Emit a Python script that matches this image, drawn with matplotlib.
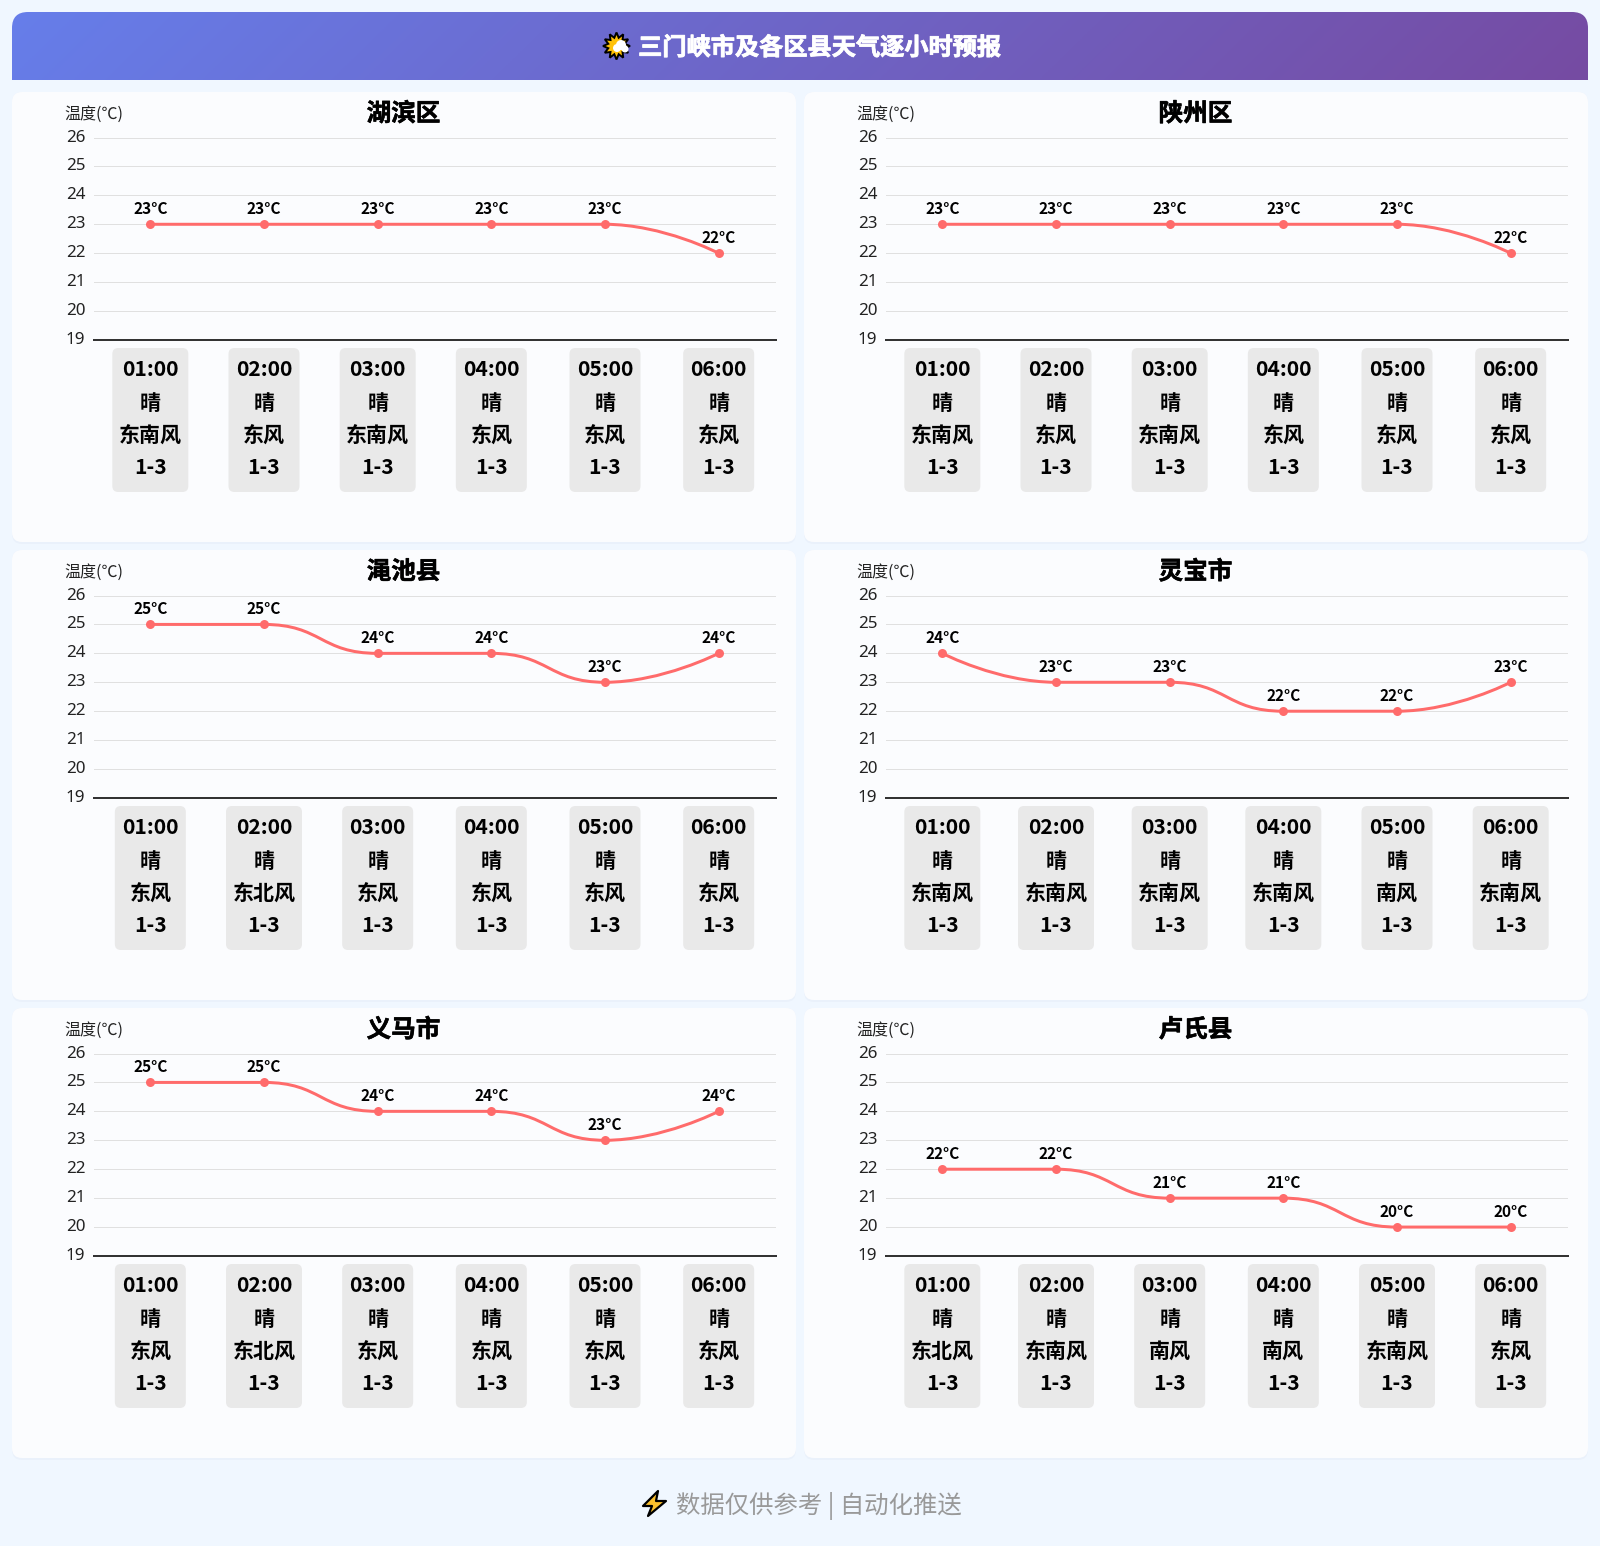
import numpy as np
import matplotlib
matplotlib.use("Agg")
import matplotlib.pyplot as plt
import matplotlib.patheffects as pe
from matplotlib.patches import FancyBboxPatch, PathPatch, Polygon, Circle
from matplotlib.path import Path
from matplotlib.transforms import ScaledTranslation

plt.rcParams['font.family'] = ['Noto Sans CJK SC', 'DejaVu Sans']

W, H = 1600, 1546
PX = 0.72  # px -> pt at dpi 100

hours = ["01:00", "02:00", "03:00", "04:00", "05:00", "06:00"]
weather = ["晴", "晴", "晴", "晴", "晴", "晴"]
level = ["1-3", "1-3", "1-3", "1-3", "1-3", "1-3"]
y_ticks = [19, 20, 21, 22, 23, 24, 25, 26]

names = ["湖滨区", "陕州区", "渑池县", "灵宝市", "义马市", "卢氏县"]

temp_hubin = [23, 23, 23, 23, 23, 22]
temp_shanzhou = [23, 23, 23, 23, 23, 22]
temp_mianchi = [25, 25, 24, 24, 23, 24]
temp_lingbao = [24, 23, 23, 22, 22, 23]
temp_yima = [25, 25, 24, 24, 23, 24]
temp_lushi = [22, 22, 21, 21, 20, 20]
temps = [temp_hubin, temp_shanzhou, temp_mianchi, temp_lingbao, temp_yima, temp_lushi]

wind_hubin = ["东南风", "东风", "东南风", "东风", "东风", "东风"]
wind_shanzhou = ["东南风", "东风", "东南风", "东风", "东风", "东风"]
wind_mianchi = ["东风", "东北风", "东风", "东风", "东风", "东风"]
wind_lingbao = ["东南风", "东南风", "东南风", "东南风", "南风", "东南风"]
wind_yima = ["东风", "东北风", "东风", "东风", "东风", "东风"]
wind_lushi = ["东北风", "东南风", "南风", "南风", "东南风", "东风"]
winds = [wind_hubin, wind_shanzhou, wind_mianchi, wind_lingbao, wind_yima, wind_lushi]


def smooth_path(xs, ys, sx, sy, smooth=0.5):
    # same idea as echarts smooth line, control points clamped to the segment range
    px = np.array(xs, float) * sx
    py = np.array(ys, float) * sy
    n = len(px)
    verts = [(px[0], py[0])]
    codes = [Path.MOVETO]
    cx0, cy0 = px[0], py[0]
    for i in range(1, n):
        x, y = px[i], py[i]
        if i == n - 1:
            cx1, cy1, ncx, ncy = x, y, x, y
        else:
            dx = px[i + 1] - px[i - 1]
            dy = py[i + 1] - py[i - 1]
            lp = np.hypot(x - px[i - 1], y - py[i - 1])
            ln = np.hypot(px[i + 1] - x, py[i + 1] - y)
            r = ln / (ln + lp)
            ncx = x + dx * smooth * r
            ncy = y + dy * smooth * r
            ncy = max(min(ncy, max(py[i + 1], y)), min(py[i + 1], y))
            ddx, ddy = ncx - x, ncy - y
            cx1, cy1 = x - ddx * lp / ln, y - ddy * lp / ln
            cy1 = max(min(cy1, max(py[i - 1], y)), min(py[i - 1], y))
            ddx, ddy = x - cx1, y - cy1
            ncx, ncy = x + ddx * ln / lp, y + ddy * ln / lp
        verts += [(cx0, cy0), (cx1, cy1), (x, y)]
        codes += [Path.CURVE4, Path.CURVE4, Path.CURVE4]
        cx0, cy0 = ncx, ncy
    verts = [(a / sx, b / sy) for a, b in verts]
    return Path(verts, codes)


fig = plt.figure(figsize=(W / 100, H / 100), dpi=100, facecolor="#f0f7ff")
bg = fig.add_axes([0, 0, 1, 1], zorder=0)
bg.set_xlim(0, W)
bg.set_ylim(H, 0)
bg.axis('off')

# banner, round top corners only
bx0, bx1, by0, by1, rad = 12, 1588, 12, 80, 16
banner = Path(
    [(bx0, by1), (bx0, by0 + rad), (bx0, by0), (bx0 + rad, by0), (bx1 - rad, by0),
     (bx1, by0), (bx1, by0 + rad), (bx1, by1), (bx0, by1)],
    [Path.MOVETO, Path.LINETO, Path.CURVE3, Path.CURVE3, Path.LINETO,
     Path.CURVE3, Path.CURVE3, Path.LINETO, Path.CLOSEPOLY])
gx, gy = np.meshgrid(np.linspace(bx0, bx1, 800), np.linspace(by0, by1, 40))
s = np.sqrt(0.5)
t = ((gx - (bx0 + bx1) / 2) * s + (gy - (by0 + by1) / 2) * s) / ((bx1 - bx0 + by1 - by0) * s) + 0.5
c0 = np.array([0x66, 0x7e, 0xea]) / 255
c1 = np.array([0x76, 0x4b, 0xa2]) / 255
grad = c0[None, None, :] * (1 - t[..., None]) + c1[None, None, :] * t[..., None]
im = bg.imshow(grad, extent=(bx0, bx1, by1, by0), aspect='auto', zorder=1)
im.set_clip_path(PathPatch(banner, transform=bg.transData))
bg.set_xlim(0, W)
bg.set_ylim(H, 0)

bg.text(820, 48, "三门峡市及各区县天气逐小时预报", color="white", fontsize=24.2 * PX,
        fontweight='bold', ha='center', va='center', zorder=3,
        path_effects=[pe.withStroke(linewidth=0.6, foreground="white")])

# sun + cloud icon
ang = np.linspace(0, 2 * np.pi, 25)[:-1]
rr = np.where(np.arange(24) % 2 == 0, 13.5, 8.5)
bg.add_patch(Polygon(np.c_[616.5 + rr * np.sin(ang), 46 + rr * np.cos(ang)], closed=True,
                     fc="#ffc107", ec="black", lw=1.4, zorder=3))
for cx, cy, r in [(617, 48, 4), (621, 45, 5), (625, 49, 3.5)]:
    bg.add_patch(Circle((cx, cy), r, fc="white", ec="none", zorder=4))

# footer
bg.text(819, 1506.5, "数据仅供参考 | 自动化推送", color="#999999", fontsize=24.4 * PX,
        ha='center', va='center', zorder=3)
bolt = [(658, 1491), (643, 1506), (652, 1506), (648, 1516), (666, 1501), (656, 1501)]
bg.add_patch(Polygon(bolt, closed=True, fc="#fbc02d", ec="black", lw=1.6, joinstyle='round', zorder=3))

for k, name in enumerate(names):
    col, row = k % 2, k // 2
    ox = col * 792
    oy = row * 458

    # panel
    bg.add_patch(FancyBboxPatch((12 + ox + 10, 92 + oy + 10), 784 - 20, 450 - 18,
                                boxstyle="round,pad=10", fc="#e6edf8", ec="none", alpha=0.55, zorder=1))
    bg.add_patch(FancyBboxPatch((12 + ox + 10, 92 + oy + 10), 784 - 20, 450 - 20,
                                boxstyle="round,pad=10", fc="#fbfcfe", ec="none", zorder=2))
    bg.text(403.5 + ox, 114 + oy, name, fontsize=24.6 * PX, fontweight='bold', color="black",
            ha='center', va='center', zorder=3,
            path_effects=[pe.withStroke(linewidth=0.4, foreground="black")])
    bg.text(93.5 + ox, 114 + oy, "温度(℃)", fontsize=16 * PX, color="#222222",
            ha='center', va='center', zorder=3)

    left, right, top, bottom = 93.5 + ox, 775.5 + ox, 137.5 + oy, 340 + oy
    ax = fig.add_axes([left / W, 1 - bottom / H, (right - left) / W, (bottom - top) / H], zorder=2)
    ax.patch.set_alpha(0)
    ax.set_xlim(-0.5, 5.5)
    ax.set_ylim(19, 26)
    for sp in ['top', 'right', 'left']:
        ax.spines[sp].set_visible(False)
    ax.spines['bottom'].set_color("#333333")
    ax.spines['bottom'].set_linewidth(2 * PX)
    ax.set_xticks([])
    ax.set_yticks(y_ticks)
    ax.set_yticklabels([str(v) for v in y_ticks], fontsize=17 * PX, color="#222222",
                       fontfamily=['Noto Sans', 'DejaVu Sans'])
    ax.tick_params(axis='y', length=0, pad=6)
    shift = ScaledTranslation(0, 2 / 100, fig.dpi_scale_trans)
    for lab in ax.get_yticklabels():
        lab.set_transform(lab.get_transform() + shift)
    ax.grid(axis='y', color="#e0e0e0", lw=1 * PX)
    ax.set_axisbelow(True)

    xs = np.arange(len(hours))
    band_px = (right - left) / len(hours)
    y_px = (bottom - top) / 7
    line = smooth_path(xs, temps[k], band_px, y_px)
    ax.add_patch(PathPatch(line, fc='none', ec="#ff6b6b", lw=3 * PX, capstyle='round', zorder=3))
    ax.scatter(xs, temps[k], s=(9 * PX) ** 2, color="#ff6b6b", linewidths=0, zorder=4)
    for i, v in enumerate(temps[k]):
        ax.annotate(f"{v}°C", (i, v), xytext=(0, 15.5 * PX), textcoords='offset points',
                    ha='center', va='center', fontsize=15.5 * PX, fontweight='bold', color="black")

    # info cards below the axis
    for i in range(len(hours)):
        cx = left + (i + 0.5) * band_px
        w = 60 + 16 if len(winds[k][i]) == 3 else 55 + 16
        bg.add_patch(FancyBboxPatch((cx - w / 2 + 6, 348 + oy + 6), w - 12, 144 - 12,
                                    boxstyle="round,pad=6", fc="#e9e9e9", ec="none", zorder=3))
        rows = [hours[i], weather[i], winds[k][i], level[i]]
        for txt, yy in zip(rows, [370, 403, 435, 467]):
            bg.text(cx, yy + oy, txt, fontsize=21 * PX, fontweight='bold', color="black",
                    ha='center', va='center', zorder=4)

fig.savefig("out.png", dpi=100, facecolor=fig.get_facecolor())
